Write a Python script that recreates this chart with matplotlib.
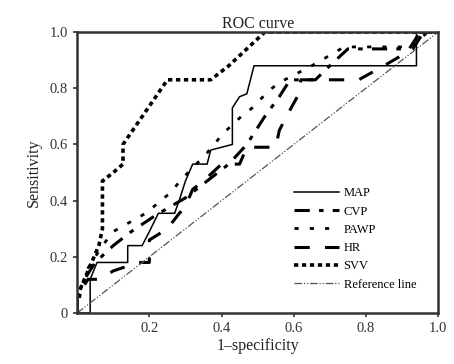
import matplotlib
matplotlib.use("Agg")
import matplotlib.pyplot as plt

plt.rcParams['font.family'] = ['Liberation Serif', 'DejaVu Serif']

# curve data (1-specificity, sensitivity)
map_x = [0, 0.036, 0.036, 0.055, 0.14, 0.14, 0.18, 0.2, 0.225, 0.27, 0.285, 0.30, 0.32, 0.36,
         0.37, 0.43, 0.43, 0.45, 0.47, 0.49, 0.94, 0.94, 1.0]
map_y = [0, 0, 0.12, 0.18, 0.18, 0.24, 0.24, 0.29, 0.355, 0.355, 0.41, 0.47, 0.53, 0.53,
         0.58, 0.6, 0.73, 0.77, 0.78, 0.88, 0.88, 1.0, 1.0]

cvp_x = [0, 0, 0.02, 0.05, 0.1, 0.15, 0.22, 0.3, 0.36, 0.42, 0.47, 0.52, 0.56, 0.59, 0.66,
         0.7, 0.75, 0.92, 0.95, 1.0]
cvp_y = [0, 0.06, 0.12, 0.18, 0.24, 0.29, 0.35, 0.41, 0.47, 0.53, 0.6, 0.7, 0.77, 0.83, 0.83,
         0.88, 0.94, 0.94, 1.0, 1.0]

pawp_x = [0, 0.01, 0.03, 0.07, 0.1, 0.19, 0.26, 0.285, 0.36, 0.405, 0.455, 0.485, 0.53, 0.56,
          0.65, 0.74, 0.93, 0.97, 1.0]
pawp_y = [0, 0.08, 0.16, 0.24, 0.29, 0.355, 0.43, 0.47, 0.57, 0.64, 0.70, 0.73, 0.79, 0.82,
          0.88, 0.947, 0.947, 1.0, 1.0]

hr_x = [0, 0, 0.03, 0.06, 0.1, 0.17, 0.2, 0.2, 0.25, 0.28, 0.3, 0.32, 0.35, 0.4, 0.45, 0.47,
        0.55, 0.56, 0.58, 0.61, 0.62, 0.78, 0.85, 0.93, 0.96, 1.0]
hr_y = [0, 0.06, 0.12, 0.12, 0.15, 0.18, 0.18, 0.26, 0.3, 0.35, 0.38, 0.44, 0.47, 0.53, 0.53,
        0.59, 0.59, 0.65, 0.7, 0.77, 0.83, 0.83, 0.88, 0.94, 1.0, 1.0]

svv_x = [0, 0, 0.02, 0.04, 0.06, 0.07, 0.07, 0.1, 0.127, 0.127, 0.25, 0.37, 0.42, 0.47, 0.52, 1.0]
svv_y = [0, 0.06, 0.12, 0.18, 0.24, 0.3, 0.47, 0.5, 0.53, 0.6, 0.83, 0.83, 0.88, 0.94, 1.0, 1.0]

ref_x = [0, 1]
ref_y = [0, 1]

fig = plt.figure(figsize=(4.54, 3.64), dpi=100)
ax = fig.add_axes([0.17, 0.14, 0.795, 0.772])

ax.plot(map_x, map_y, color='black', lw=1.1, label='MAP')
ax.plot(cvp_x, cvp_y, color='black', lw=2.2, dashes=(5, 3, 1.5, 3), label='CVP')
ax.plot(pawp_x, pawp_y, color='black', lw=2.0, dashes=(1.5, 4), label='PAWP')
ax.plot(hr_x, hr_y, color='black', lw=2.2, dashes=(5, 5), label='HR')
ax.plot(svv_x, svv_y, color='black', lw=2.6, dashes=(1.2, 1.0), label='SVV')
ax.plot(ref_x, ref_y, color='#555555', lw=0.9, dashes=(6, 1.5, 1, 1.5, 1, 1.5), label='Reference line')

ax.set_xlim(0, 1)
ax.set_ylim(0, 1)
ax.set_xticks([0.2, 0.4, 0.6, 0.8, 1.0])
ax.set_xticklabels(['0.2', '0.4', '0.6', '0.8', '1.0'])
ax.set_yticks([0, 0.2, 0.4, 0.6, 0.8, 1.0])
ax.set_yticklabels(['0', '0.2', '0.4', '0.6', '0.8', '1.0'])
ax.tick_params(direction='out', length=3, width=1.2, labelsize=10.5, colors='#333333')
for s in ax.spines.values():
    s.set_linewidth(1.8)
    s.set_color('#333333')

ax.set_title('ROC curve', fontsize=11.5, pad=2, color='#222222')
ax.set_xlabel('1\u2013specificity', fontsize=11.5, labelpad=2, color='#222222')
ax.set_ylabel('Sensitivity', fontsize=11.5, labelpad=6, color='#222222')

ax.legend(loc='lower right', bbox_to_anchor=(0.97, 0.04), frameon=False, fontsize=9,
          handlelength=3.6, labelspacing=0.5, handletextpad=0.4)

fig.savefig('out.png', dpi=100)
